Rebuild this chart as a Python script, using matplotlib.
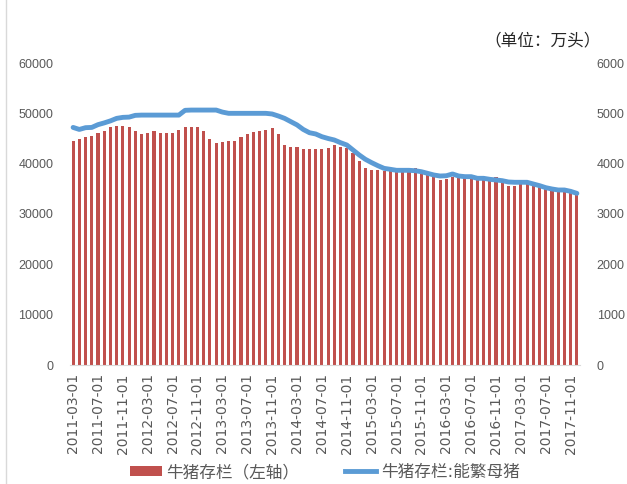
import matplotlib

matplotlib.use("Agg")
import matplotlib.pyplot as plt
from matplotlib.lines import Line2D
from matplotlib.patches import Patch
import pandas as pd

plt.rcParams["font.family"] = ["DejaVu Sans", "Noto Sans CJK SC"]

# monthly categories, 2011-03 .. 2017-12
months = pd.date_range("2011-03-01", "2017-12-01", freq="MS").strftime("%Y-%m-%d").tolist()

# 生猪存栏 (left axis, 万头)
hogs = [
    44600, 44900, 45200, 45500, 46100, 46400, 47200, 47500, 47500, 47200,
    46400, 45800, 46100, 46400, 46100, 46100, 46100, 46700, 47300, 47300,
    47200, 46400, 44900, 44100, 44400, 44600, 44600, 45200, 45900, 46200,
    46400, 46700, 47000, 45800, 43700, 43400, 43400, 42900, 42900, 42900,
    42900, 43100, 43700, 43400, 43200, 42100, 40500, 39100, 38700, 38700,
    38500, 38500, 38400, 38400, 38900, 39100, 38100, 37800, 37300, 36800,
    37000, 37300, 37100, 37100, 37100, 37000, 37000, 37400, 37400, 36400,
    35600, 35600, 36100, 36100, 35800, 35600, 35100, 34800, 34600, 34600,
    34200, 34000,
]

# 生猪存栏:能繁母猪 (right axis, 万头)
sows = [
    4720, 4680, 4715, 4720, 4775, 4810, 4850, 4900, 4920, 4925,
    4960, 4965, 4965, 4965, 4965, 4965, 4965, 4965, 5060, 5065,
    5065, 5065, 5065, 5065, 5025, 5000, 5000, 5000, 5000, 5000,
    5000, 5000, 4987, 4947, 4900, 4835, 4770, 4680, 4615, 4590,
    4536, 4500, 4470, 4417, 4371, 4272, 4173, 4086, 4020, 3960,
    3907, 3888, 3868, 3868, 3868, 3860, 3840, 3808, 3775, 3755,
    3760, 3795, 3755, 3742, 3742, 3709, 3709, 3689, 3676, 3662,
    3636, 3630, 3630, 3630, 3596, 3563, 3523, 3497, 3477, 3477,
    3450, 3410,
]

BAR_LABEL = "牛猪存栏（左轴）"
LINE_LABEL = "牛猪存栏:能繁母猪"
UNIT_TEXT = "（单位：万头）"

BAR_COLOR = "#C0504D"
LINE_COLOR = "#5B9BD5"
TEXT_COLOR = "#595959"

fig = plt.figure(figsize=(6.27, 4.84), dpi=100)
ax = fig.add_axes([70 / 627, 1 - 365 / 484, 510 / 627, 302 / 484])
ax2 = ax.twinx()

x = list(range(len(months)))
ax.bar(x, hogs, width=0.5, color=BAR_COLOR, zorder=2)
ax2.plot(x, sows, color=LINE_COLOR, linewidth=3.5, solid_capstyle="round")

ax.set_xlim(-0.5, len(months) - 0.5)
ax.set_ylim(0, 60000)
ax2.set_ylim(0, 6000)
ax.set_yticks(range(0, 60001, 10000))
ax2.set_yticks(range(0, 6001, 1000))
ax.set_xticks(x[::4])
ax.set_xticklabels(months[::4], rotation=90, fontsize=10, color=TEXT_COLOR)

for a in (ax, ax2):
    for side in ("top", "left", "right", "bottom"):
        a.spines[side].set_visible(False)
    a.tick_params(length=0)
ax.spines["bottom"].set_visible(True)
ax.spines["bottom"].set_color("#D9D9D9")
ax.tick_params(axis="y", labelsize=9, labelcolor=TEXT_COLOR, pad=12)
ax2.tick_params(axis="y", labelsize=9, labelcolor=TEXT_COLOR, pad=12)
ax.tick_params(axis="x", pad=6)
for lbl in ax.get_yticklabels() + ax2.get_yticklabels():
    lbl.set_family("Liberation Sans")

handles = [
    Patch(facecolor=BAR_COLOR, edgecolor="none"),
    Line2D([], [], color=LINE_COLOR, linewidth=3.5),
]
fig.legend(
    handles,
    [BAR_LABEL, LINE_LABEL],
    loc="center",
    bbox_to_anchor=(325 / 627, 1 - 472 / 484),
    ncol=2,
    frameon=False,
    fontsize=12,
    handlelength=1.9,
    handleheight=0.6,
    handletextpad=0.3,
    columnspacing=2.7,
    labelcolor=TEXT_COLOR,
)

fig.text(543 / 627, 1 - 40 / 484, UNIT_TEXT, ha="center", va="center",
         fontsize=12, color="#262626")

# light chart-area border on the left
fig.add_artist(Line2D([6 / 627, 6 / 627], [0, 1], color="#D9D9D9", linewidth=1,
                      transform=fig.transFigure))

fig.savefig("out.png", dpi=100)
